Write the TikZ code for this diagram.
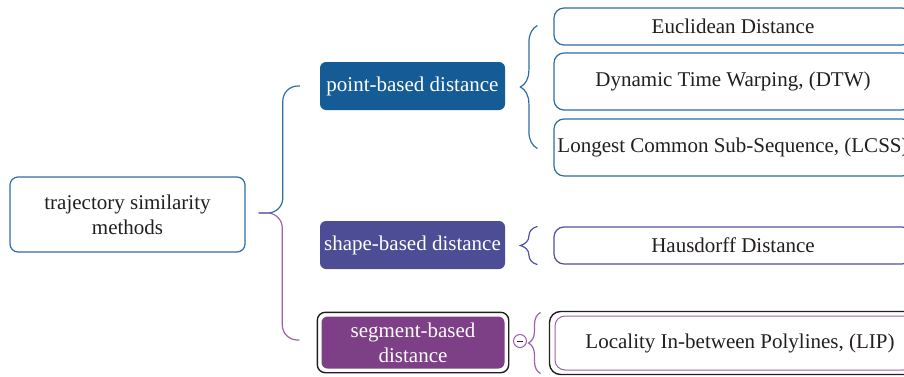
\documentclass[tikz,border=0pt]{standalone}
\usepackage{fontspec}
\setmainfont{Liberation Serif}
\usetikzlibrary{decorations.pathreplacing,calc}
\definecolor{txt}{RGB}{35,31,32}
\definecolor{rootblue}{RGB}{46,109,164}
\definecolor{pointfill}{RGB}{21,92,150}
\definecolor{shapefill}{RGB}{77,77,150}
\definecolor{segfill}{RGB}{125,63,133}
\definecolor{purpleline}{RGB}{155,98,172}
\definecolor{hausline}{RGB}{80,80,160}
\begin{document}
\begin{tikzpicture}[x=1pt,y=1pt,
  every node/.style={font=\fontsize{21}{25}\selectfont, text=txt, inner sep=0pt, align=center},
  rootbox/.style={draw=rootblue, line width=1.2pt, rounded corners=8pt, fill=white},
  midbox/.style={rounded corners=6pt, text=white, minimum width=185pt, minimum height=48pt},
  leafbox/.style={rounded corners=10pt, line width=1.2pt, fill=white, minimum width=358pt},
  bluebrace/.style={draw=rootblue, line width=1.2pt},
  purplebrace/.style={draw=purpleline, line width=1.2pt},
  curly/.style={decorate, decoration={brace, amplitude=#1}}
]
\useasboundingbox (0,0) rectangle (904,376);
\clip (0,0) rectangle (904,376);

% root
\node[rootbox, minimum width=235pt, minimum height=75pt] (root) at (127.5,161.5) {trajectory similarity\\methods};

% middle level
\node[midbox, fill=pointfill] (point) at (412.5,290) {point-based distance};
\node[midbox, fill=shapefill] (shape) at (412.5,131) {shape-based distance};
\node[midbox, fill=segfill, minimum width=183pt, minimum height=52pt] (seg) at (413,33.5) {segment-based\\distance};
\draw[line width=1.4pt, draw=txt, rounded corners=8pt]
  ([shift={(-4pt,-4pt)}]seg.south west) rectangle ([shift={(4pt,4pt)}]seg.north east);

% leaves
\node[leafbox, draw=rootblue, minimum height=37pt] (euc) at (733,349.5) {Euclidean Distance};
\node[leafbox, draw=rootblue, minimum height=57pt] (dtw) at (733,294.5) {Dynamic Time Warping, (DTW)};
\node[leafbox, draw=rootblue, minimum height=57pt] (lcss) at (733,228.5) {Longest Common Sub-Sequence, (LCSS)};
\node[leafbox, draw=purpleline, minimum height=54pt, line width=1pt] (lip) at (734,33) {\hspace*{12pt}Locality In-between Polylines, (LIP)};
\node[leafbox, draw=hausline, minimum height=37pt] (haus) at (733,130.5) {Hausdorff Distance};
\draw[line width=1.4pt, draw=txt, rounded corners=11pt]
  ([shift={(-5pt,-4pt)}]lip.south west) rectangle ([shift={(5pt,4pt)}]lip.north east);

% main bracket
\coordinate (J) at ($(root.east)+(13pt,1.5pt)$);
\draw[bluebrace, rounded corners=15pt] (J) -| ($(point.west)+(-37pt,0)$) -- ($(point.west)+(-20pt,0)$);
\draw[purplebrace, rounded corners=15pt] (J) -| ($(seg.west)+(-39pt,2.5pt)$) -- ($(seg.west)+(-22pt,2.5pt)$);

% sub brackets
\draw[bluebrace, curly=17pt] ($(lcss.west)+(-16pt,-1pt)$) -- ($(euc.west)+(-16pt,1pt)$);
\draw[draw=hausline, line width=1.2pt, curly=17pt] ([xshift=-16pt]haus.south west) -- ([xshift=-16pt]haus.north west);
\draw[purplebrace, curly=12pt] ($(lip.south west)+(-14pt,-3pt)$) -- ($(lip.north west)+(-14pt,3pt)$);
\node[draw=purpleline, circle, minimum size=13pt, line width=1pt, fill=white] (minus) at (520,35) {};
\draw[txt, line width=0.9pt] ([xshift=-3pt]minus.center) -- ([xshift=3pt]minus.center);
\end{tikzpicture}
\end{document}
